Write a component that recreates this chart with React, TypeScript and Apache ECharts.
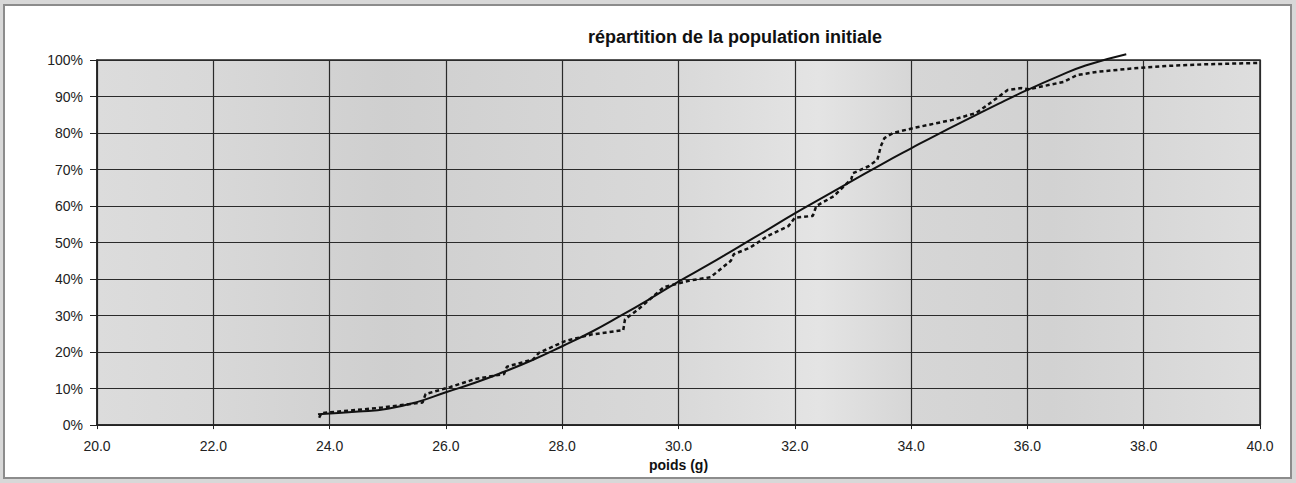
import React, { useEffect, useRef } from "react";
import * as echarts from "echarts";

// Empirical cumulative distribution (dotted)
const empX = [23.82, 23.86, 24.35, 24.9, 25.2, 25.6, 25.65, 26.07, 26.5, 27.0, 27.05, 27.5, 27.6, 28.05, 28.5, 29.05, 29.08, 29.3, 29.75, 29.97, 30.2, 30.55, 30.9, 30.95, 31.23, 31.53, 31.89, 32.0, 32.31, 32.37, 32.67, 32.85, 32.97, 33.0, 33.27, 33.42, 33.48, 33.54, 33.69, 34.05, 34.71, 35.12, 35.36, 35.66, 35.9, 36.02, 36.62, 36.86, 37.22, 37.82, 38.42, 39.02, 39.74, 40.0];
const empY = [2.0, 3.3, 4.0, 4.8, 5.4, 6.2, 8.5, 10.4, 12.6, 14.0, 16.0, 18.0, 19.8, 23.0, 24.8, 26.0, 29.0, 31.6, 37.8, 38.7, 39.6, 40.5, 45.0, 46.8, 48.6, 51.8, 54.5, 56.8, 57.3, 60.0, 62.7, 65.5, 67.3, 69.0, 70.9, 72.7, 76.4, 78.6, 80.0, 81.4, 83.6, 85.5, 88.2, 91.8, 92.3, 92.0, 94.0, 95.9, 96.8, 97.7, 98.4, 98.8, 99.1, 99.2];

// Fitted curve (solid)
const fitX = [23.8, 24.5, 25.0, 25.5, 26.0, 26.5, 27.0, 27.5, 28.0, 28.5, 29.0, 29.5, 30.0, 30.5, 31.0, 31.5, 32.0, 32.5, 33.0, 33.5, 34.0, 34.5, 35.0, 35.5, 36.0, 36.5, 37.0, 37.7];
const fitY = [3.0, 3.7, 4.5, 6.3, 9.0, 11.6, 14.6, 17.9, 21.6, 25.5, 29.9, 34.5, 39.3, 43.8, 48.5, 53.2, 58.0, 62.5, 67.0, 71.5, 75.8, 80.0, 84.0, 88.0, 91.8, 95.3, 98.5, 101.6];

const titleText = "répartition de la population initiale";
const xName = "poids (g)";

export default function App() {
  const ref = useRef<HTMLDivElement>(null);
  useEffect(() => {
    if (!ref.current) return;
    const chart = echarts.init(ref.current, undefined, { renderer: "svg" });
    const font = "'Liberation Sans', Arial, sans-serif";
    const bg = new echarts.graphic.LinearGradient(0, 0, 1, 0, [
      { offset: 0, color: "#dcdcdc" },
      { offset: 0.1, color: "#d8d8d8" },
      { offset: 0.25, color: "#cfcfcf" },
      { offset: 0.35, color: "#d3d3d3" },
      { offset: 0.5, color: "#d9d9d9" },
      { offset: 0.62, color: "#e4e4e4" },
      { offset: 0.7, color: "#d6d6d6" },
      { offset: 0.82, color: "#d2d2d2" },
      { offset: 1, color: "#dedede" },
    ]);
    chart.setOption({
      animation: false,
      backgroundColor: "#ffffff",
      textStyle: { fontFamily: font },
      title: {
        text: titleText,
        left: 583,
        top: 22,
        padding: 0,
        textStyle: { fontSize: 18, fontWeight: "bold", color: "#111", fontFamily: font },
      },
      grid: {
        left: 92,
        right: 30,
        top: 54,
        bottom: 47,
        show: true,
        backgroundColor: bg,
        borderColor: "#222",
        borderWidth: 1.5,
      },
      xAxis: {
        type: "value",
        min: 20,
        max: 40,
        interval: 2,
        name: xName,
        nameLocation: "middle",
        nameGap: 25,
        nameTextStyle: { fontSize: 14, fontWeight: "bold", color: "#111", fontFamily: font },
        axisLine: { show: true, lineStyle: { color: "#222", width: 1.5 } },
        axisTick: { show: true, length: 4, lineStyle: { color: "#222" } },
        axisLabel: {
          fontSize: 14,
          color: "#222",
          margin: 14,
          formatter: (v: number) => v.toFixed(1),
        },
        splitLine: { show: true, lineStyle: { color: "#2a2a2a", width: 1.2 } },
      },
      yAxis: {
        type: "value",
        min: 0,
        max: 100,
        interval: 10,
        axisLine: { show: true, lineStyle: { color: "#222", width: 1.5 } },
        axisTick: { show: true, length: 7, lineStyle: { color: "#222" } },
        axisLabel: { fontSize: 14, color: "#222", margin: 14, formatter: "{value}%" },
        splitLine: { show: true, lineStyle: { color: "#2a2a2a", width: 1.2 } },
      },
      series: [
        {
          name: "empirique",
          type: "line",
          data: empX.map((x, i) => [x, empY[i]]),
          showSymbol: false,
          symbol: "none",
          lineStyle: { color: "#111", width: 2.5, type: [4, 3] },
          z: 3,
        },
        {
          name: "ajustement",
          type: "line",
          smooth: true,
          clip: false,
          data: fitX.map((x, i) => [x, fitY[i]]),
          showSymbol: false,
          symbol: "none",
          lineStyle: { color: "#111", width: 2 },
          z: 4,
        },
      ],
    });
    return () => chart.dispose();
  }, []);
  return (
    <div style={{ position: "absolute", left: 0, top: 0, width: 1296, height: 483, background: "#d8d8d8" }}>
      <div
        style={{
          position: "absolute",
          left: 3,
          top: 4,
          width: 1289,
          height: 475,
          border: "2px solid #8c8c8c",
          boxSizing: "border-box",
          background: "#fff",
        }}
      />
      <div ref={ref} style={{ position: "absolute", left: 5, top: 6, width: 1285, height: 471 }} />
    </div>
  );
}
